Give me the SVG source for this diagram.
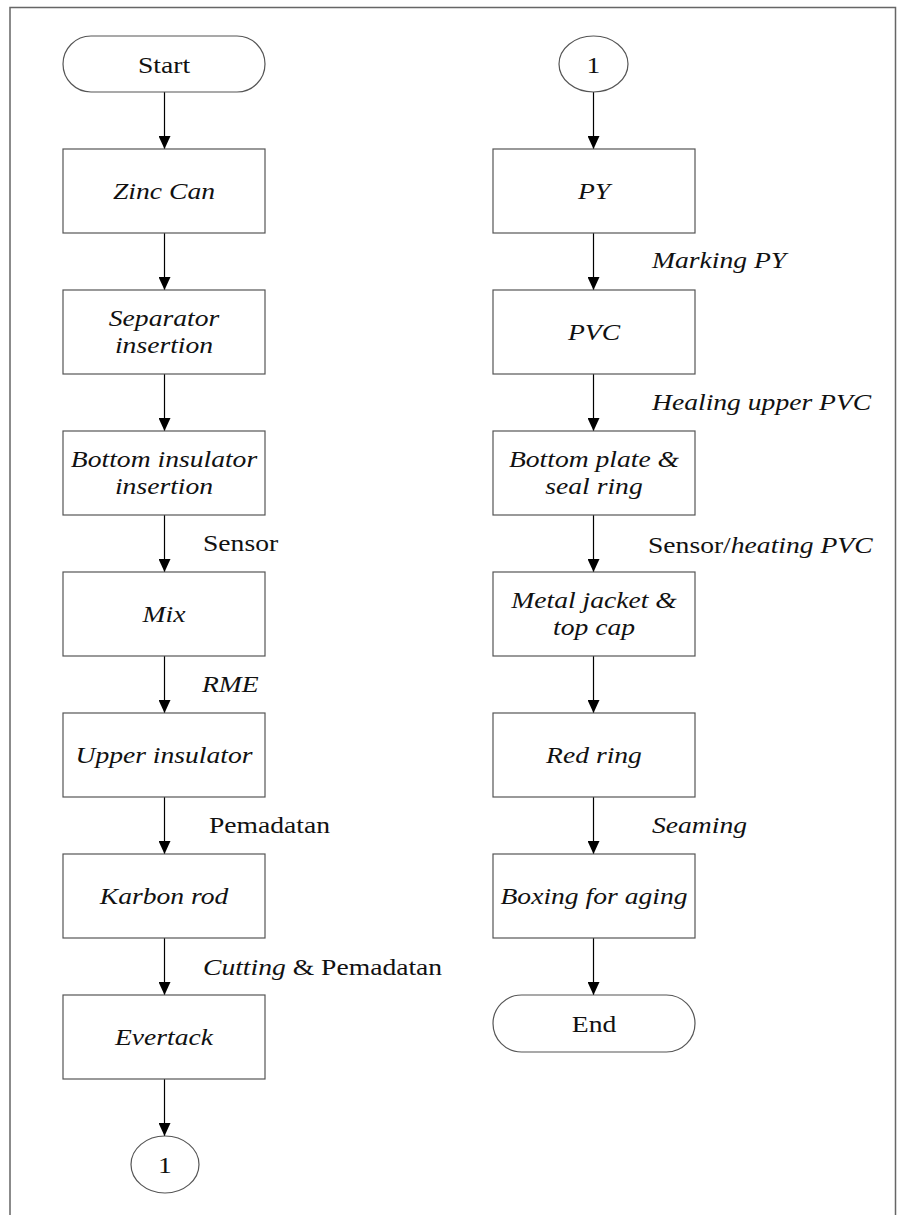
<svg xmlns="http://www.w3.org/2000/svg" width="904" height="1215" viewBox="0 0 904 1215" font-family="'Liberation Serif', 'DejaVu Serif', serif">
  <style>
    .shape { fill: #ffffff; stroke: #555555; stroke-width: 1.2; }
    .edge { stroke: #000000; stroke-width: 1.2; fill: none; }
    .frame { fill: none; stroke: #666666; stroke-width: 1.5; }
    text { font-family: 'Liberation Serif', 'DejaVu Serif', serif; font-size: 24px; fill: #111111; }
    .c { text-anchor: middle; }
    .it { font-style: italic; }
  </style>
  <defs>
    <marker id="arrow" markerUnits="userSpaceOnUse" markerWidth="13" markerHeight="12" refX="13" refY="6" orient="auto">
      <path d="M0,0 L13,6 L0,12 z" fill="#000000"/>
    </marker>
  </defs>

  <rect width="904" height="1215" fill="#ffffff"/>
  <!-- outer frame, open at the bottom -->
  <path class="frame" d="M10,1215 V7.5 H895.5 V1215"/>

  <!-- connectors -->
  <g id="connectors">
    <line class="edge" x1="164.5" y1="92" x2="164.5" y2="149" marker-end="url(#arrow)"/>
    <line class="edge" x1="164.5" y1="233" x2="164.5" y2="290" marker-end="url(#arrow)"/>
    <line class="edge" x1="164.5" y1="374" x2="164.5" y2="431" marker-end="url(#arrow)"/>
    <line class="edge" x1="164.5" y1="515" x2="164.5" y2="572" marker-end="url(#arrow)"/>
    <line class="edge" x1="164.5" y1="656" x2="164.5" y2="713" marker-end="url(#arrow)"/>
    <line class="edge" x1="164.5" y1="797" x2="164.5" y2="854" marker-end="url(#arrow)"/>
    <line class="edge" x1="164.5" y1="938" x2="164.5" y2="995" marker-end="url(#arrow)"/>
    <line class="edge" x1="164.5" y1="1079" x2="164.5" y2="1136" marker-end="url(#arrow)"/>

    <line class="edge" x1="593.5" y1="92" x2="593.5" y2="149" marker-end="url(#arrow)"/>
    <line class="edge" x1="593.5" y1="233" x2="593.5" y2="290" marker-end="url(#arrow)"/>
    <line class="edge" x1="593.5" y1="374" x2="593.5" y2="431" marker-end="url(#arrow)"/>
    <line class="edge" x1="593.5" y1="515" x2="593.5" y2="572" marker-end="url(#arrow)"/>
    <line class="edge" x1="593.5" y1="656" x2="593.5" y2="713" marker-end="url(#arrow)"/>
    <line class="edge" x1="593.5" y1="797" x2="593.5" y2="854" marker-end="url(#arrow)"/>
    <line class="edge" x1="593.5" y1="938" x2="593.5" y2="995" marker-end="url(#arrow)"/>

    <!-- connector labels -->
    <text transform="translate(203 551) scale(1.15 1)">Sensor</text>
    <text class="it" transform="translate(202 692) scale(1.15 1)">RME</text>
    <text transform="translate(209 833) scale(1.15 1)">Pemadatan</text>
    <text transform="translate(203 975) scale(1.15 1)"><tspan class="it">Cutting</tspan> &amp; Pemadatan</text>
    <text class="it" transform="translate(652 268) scale(1.15 1)">Marking PY</text>
    <text class="it" transform="translate(652 410) scale(1.15 1)">Healing upper PVC</text>
    <text transform="translate(648 553) scale(1.15 1)">Sensor/<tspan class="it">heating PVC</tspan></text>
    <text class="it" transform="translate(652 833) scale(1.15 1)">Seaming</text>
  </g>

  <!-- left column -->
  <g id="start">
    <rect class="shape" x="63" y="36" width="202" height="56" rx="28" ry="28"/>
    <text class="c" transform="translate(164 72.5) scale(1.15 1)">Start</text>
  </g>
  <g id="zinc-can">
    <rect class="shape" x="63" y="149" width="202" height="84"/>
    <text class="c it" transform="translate(164 199) scale(1.15 1)">Zinc Can</text>
  </g>
  <g id="separator-insertion">
    <rect class="shape" x="63" y="290" width="202" height="84"/>
    <text class="c it" transform="translate(164 326) scale(1.15 1)">Separator</text>
    <text class="c it" transform="translate(164 353) scale(1.15 1)">insertion</text>
  </g>
  <g id="bottom-insulator-insertion">
    <rect class="shape" x="63" y="431" width="202" height="84"/>
    <text class="c it" transform="translate(164 467) scale(1.15 1)">Bottom insulator</text>
    <text class="c it" transform="translate(164 494) scale(1.15 1)">insertion</text>
  </g>
  <g id="mix">
    <rect class="shape" x="63" y="572" width="202" height="84"/>
    <text class="c it" transform="translate(164 622) scale(1.15 1)">Mix</text>
  </g>
  <g id="upper-insulator">
    <rect class="shape" x="63" y="713" width="202" height="84"/>
    <text class="c it" transform="translate(164 763) scale(1.15 1)">Upper insulator</text>
  </g>
  <g id="karbon-rod">
    <rect class="shape" x="63" y="854" width="202" height="84"/>
    <text class="c it" transform="translate(164 904) scale(1.15 1)">Karbon rod</text>
  </g>
  <g id="evertack">
    <rect class="shape" x="63" y="995" width="202" height="84"/>
    <text class="c it" transform="translate(164 1045) scale(1.15 1)">Evertack</text>
  </g>
  <g id="off-page-out">
    <ellipse class="shape" cx="165" cy="1164.5" rx="34" ry="28.5"/>
    <text class="c" transform="translate(165 1172.5) scale(1.15 1)">1</text>
  </g>

  <!-- right column -->
  <g id="off-page-in">
    <ellipse class="shape" cx="593.5" cy="64" rx="34.5" ry="28"/>
    <text class="c" transform="translate(593.5 72.5) scale(1.15 1)">1</text>
  </g>
  <g id="py">
    <rect class="shape" x="493" y="149" width="202" height="84"/>
    <text class="c it" transform="translate(594 199) scale(1.15 1)">PY</text>
  </g>
  <g id="pvc">
    <rect class="shape" x="493" y="290" width="202" height="84"/>
    <text class="c it" transform="translate(594 340) scale(1.15 1)">PVC</text>
  </g>
  <g id="bottom-plate-seal-ring">
    <rect class="shape" x="493" y="431" width="202" height="84"/>
    <text class="c it" transform="translate(594 467) scale(1.15 1)">Bottom plate &amp;</text>
    <text class="c it" transform="translate(594 494) scale(1.15 1)">seal ring</text>
  </g>
  <g id="metal-jacket-top-cap">
    <rect class="shape" x="493" y="572" width="202" height="84"/>
    <text class="c it" transform="translate(594 608) scale(1.15 1)">Metal jacket &amp;</text>
    <text class="c it" transform="translate(594 635) scale(1.15 1)">top cap</text>
  </g>
  <g id="red-ring">
    <rect class="shape" x="493" y="713" width="202" height="84"/>
    <text class="c it" transform="translate(594 763) scale(1.15 1)">Red ring</text>
  </g>
  <g id="boxing-for-aging">
    <rect class="shape" x="493" y="854" width="202" height="84"/>
    <text class="c it" transform="translate(594 904) scale(1.15 1)">Boxing for aging</text>
  </g>
  <g id="end">
    <rect class="shape" x="493" y="995" width="202" height="57" rx="28.5" ry="28.5"/>
    <text class="c" transform="translate(594 1032) scale(1.15 1)">End</text>
  </g>
</svg>
